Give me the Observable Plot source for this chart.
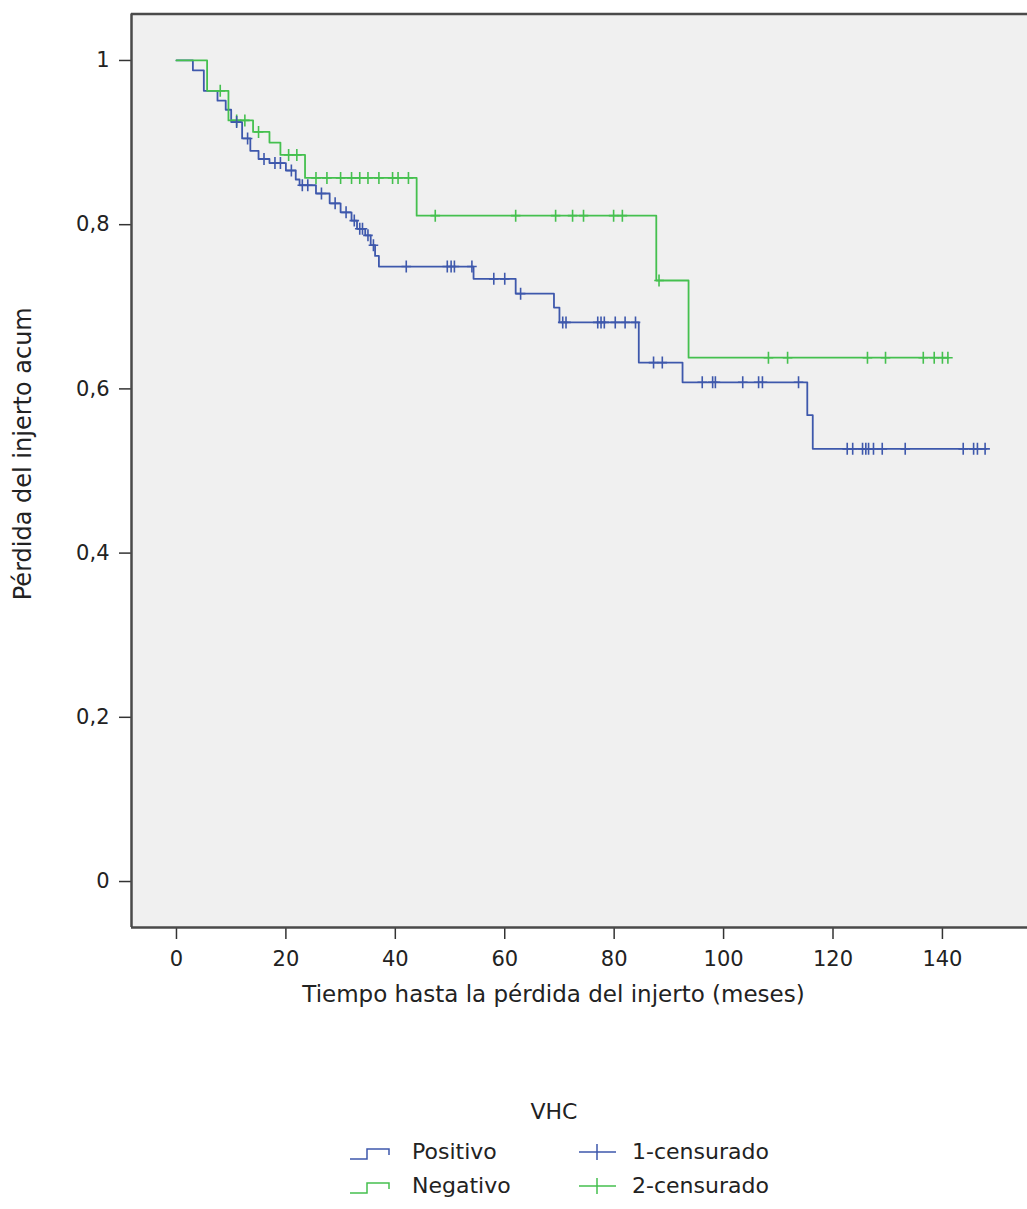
<!DOCTYPE html>
<html><head><meta charset="utf-8">
<script src="https://cdn.jsdelivr.net/npm/d3@7"></script>
<script src="https://cdn.jsdelivr.net/npm/@observablehq/plot@0.6"></script>
<style>
body{margin:0;background:#fff;font-family:"DejaVu Sans",Verdana,sans-serif;color:#222;}
#wrap{position:relative;width:1027px;height:1209px;overflow:hidden;}
#wrap svg.plot{position:absolute;left:0;top:0;}
.lg{position:absolute;font-size:22px;color:#222;white-space:nowrap;line-height:1;}
</style></head><body><div id="wrap"></div>
<script>
// ---- data ----
const xTicks = [0, 20, 40, 60, 80, 100, 120, 140];
const yTicks = [0, 0.2, 0.4, 0.6, 0.8, 1];
const groups = ["Positivo", "Negativo"];
const censorLabels = ["1-censurado", "2-censurado"];

// VHC Positivo: step times and survival
const posTime = [0, 3, 5, 7.5, 9, 10, 12, 13.5, 15, 17, 20, 21.8, 22.5, 25.5, 28, 30, 32, 33, 34.5, 35.5, 36.3, 37, 54.3, 62, 69, 70, 84.5, 92.5, 115.3, 116.3, 148];
const posSurv = [1, 0.988, 0.963, 0.951, 0.94, 0.925, 0.905, 0.89, 0.88, 0.875, 0.866, 0.855, 0.848, 0.838, 0.826, 0.815, 0.805, 0.795, 0.787, 0.775, 0.762, 0.749, 0.734, 0.716, 0.699, 0.681, 0.632, 0.608, 0.568, 0.527, 0.527];
const posCensor = [11, 13, 16, 18, 19, 21, 23, 24, 26.5, 29, 31, 32.5, 33.5, 34, 35, 36, 42, 49.5, 50.2, 50.8, 54, 58, 60, 62.9, 70.6, 71.2, 77, 77.6, 78.2, 80.2, 82, 83.9, 87.2, 88.8, 96.1, 98, 98.5, 103.5, 106.4, 107.1, 113.7, 122.6, 123.6, 125.4, 126, 126.5, 127.4, 129, 133.2, 143.8, 145.7, 146.4, 147.8];

// VHC Negativo
const negTime = [0, 5.6, 9.5, 14, 17, 19, 23.5, 43.9, 87.7, 93.6, 141.1];
const negSurv = [1, 0.963, 0.927, 0.913, 0.9, 0.885, 0.857, 0.811, 0.732, 0.638, 0.638];
const negCensor = [8, 11, 12.5, 15, 20.5, 22, 25.5, 27.5, 30, 32, 33.5, 35, 37, 39.5, 40.5, 42.4, 47.3, 62, 69.3, 72.4, 74.4, 79.9, 81.5, 88.2, 108.2, 111.7, 126.3, 129.6, 136.5, 138.5, 140, 141];

const colors = {Positivo: "#3e58ac", Negativo: "#45c04f"};

// ---- build tables ----
const steps = (T, S, g) => T.map((t, i) => ({t, s: S[i], g}));
const cens = (C, T, S, g) => C.map(c => ({t: c, s: S[Math.max(0, d3.bisectRight(T, c) - 1)], g}));
const posSteps = steps(posTime, posSurv, "Positivo");
const negSteps = steps(negTime, negSurv, "Negativo");
const posC = cens(posCensor, posTime, posSurv, "Positivo");
const negC = cens(negCensor, negTime, negSurv, "Negativo");

const crossSym = {draw(ctx, size) {
  const r = Math.sqrt(size / Math.PI);
  ctx.moveTo(0, -r); ctx.lineTo(0, r);
  ctx.moveTo(-r * 0.8, 0); ctx.lineTo(r * 0.8, 0);
}};

const fmt = d => String(d).replace(".", ",");

const chart = Plot.plot({
  width: 1027, height: 1060,
  marginTop: 13.5, marginBottom: 133, marginLeft: 131, marginRight: 0,
  style: {fontFamily: "'DejaVu Sans', Verdana, sans-serif", fontSize: "21px", color: "#222", background: "transparent", overflow: "visible"},
  x: {domain: [-8.22, 155.55]},
  y: {domain: [-0.056, 1.0566]},
  marks: [
    Plot.frame({fill: "#f0f0f0", stroke: null}),
    Plot.line(posSteps, {x: "t", y: "s", curve: "step-after", stroke: colors.Positivo, strokeWidth: 1.8}),
    Plot.line(negSteps, {x: "t", y: "s", curve: "step-after", stroke: colors.Negativo, strokeWidth: 1.8}),
    Plot.dot(negC, {x: "t", y: "s", symbol: crossSym, r: 6, fill: "none", stroke: colors.Negativo, strokeWidth: 1.6}),
    Plot.dot(posC, {x: "t", y: "s", symbol: crossSym, r: 6, fill: "none", stroke: colors.Positivo, strokeWidth: 1.6}),
    Plot.axisX({ticks: xTicks, tickSize: 12, tickPadding: 12, tickFormat: fmt, label: null, stroke: "#333", strokeWidth: 1.5}),
    Plot.axisY({ticks: yTicks, tickSize: 12, tickPadding: 10, tickFormat: fmt, label: null, stroke: "#333", strokeWidth: 1.5}),
    Plot.ruleX([-8.22], {stroke: "#4a4a4a", strokeWidth: 2.5}),
    Plot.ruleY([1.0566], {stroke: "#4a4a4a", strokeWidth: 2.5}),
    Plot.ruleY([-0.056], {stroke: "#4a4a4a", strokeWidth: 2.5}),
    Plot.text(["Tiempo hasta la pérdida del injerto (meses)"], {frameAnchor: "bottom", textAnchor: "middle", dx: -26, dy: 74, fontSize: 23, fill: "#222"}),
    Plot.text(["Pérdida del injerto acum"], {frameAnchor: "left", textAnchor: "middle", dx: -108, dy: -17, rotate: -90, fontSize: 24, fill: "#222"})
  ]
});
chart.classList.add("plot");
const wrap = document.getElementById("wrap");
wrap.appendChild(chart);

// ---- legend ----
function addText(txt, x, y, anchor) {
  const d = document.createElement("div");
  d.className = "lg"; d.textContent = txt;
  d.style.left = x + "px"; d.style.top = (y - 11) + "px";
  if (anchor === "middle") d.style.transform = "translateX(-50%)";
  wrap.appendChild(d);
}
addText("VHC", 554, 1112, "middle");
const ns = "http://www.w3.org/2000/svg";
const lsvg = document.createElementNS(ns, "svg");
lsvg.setAttribute("width", 1027); lsvg.setAttribute("height", 1209);
lsvg.style.position = "absolute"; lsvg.style.left = "0"; lsvg.style.top = "0";
const rowsY = [1152, 1186];
groups.forEach((g, i) => {
  const y = rowsY[i];
  const p = document.createElementNS(ns, "path");
  p.setAttribute("d", `M350,${y + 7}H367V${y - 3}H389V${y + 3}`);
  p.setAttribute("fill", "none"); p.setAttribute("stroke", colors[g]); p.setAttribute("stroke-width", 1.5);
  lsvg.appendChild(p);
  const c = document.createElementNS(ns, "path");
  c.setAttribute("d", `M579,${y}H616M597,${y - 8}V${y + 8}`);
  c.setAttribute("fill", "none"); c.setAttribute("stroke", colors[g]); c.setAttribute("stroke-width", 1.5);
  lsvg.appendChild(c);
  addText(g, 412, y, "start");
  addText(censorLabels[i], 632, y, "start");
});
wrap.appendChild(lsvg);
</script></body></html>
